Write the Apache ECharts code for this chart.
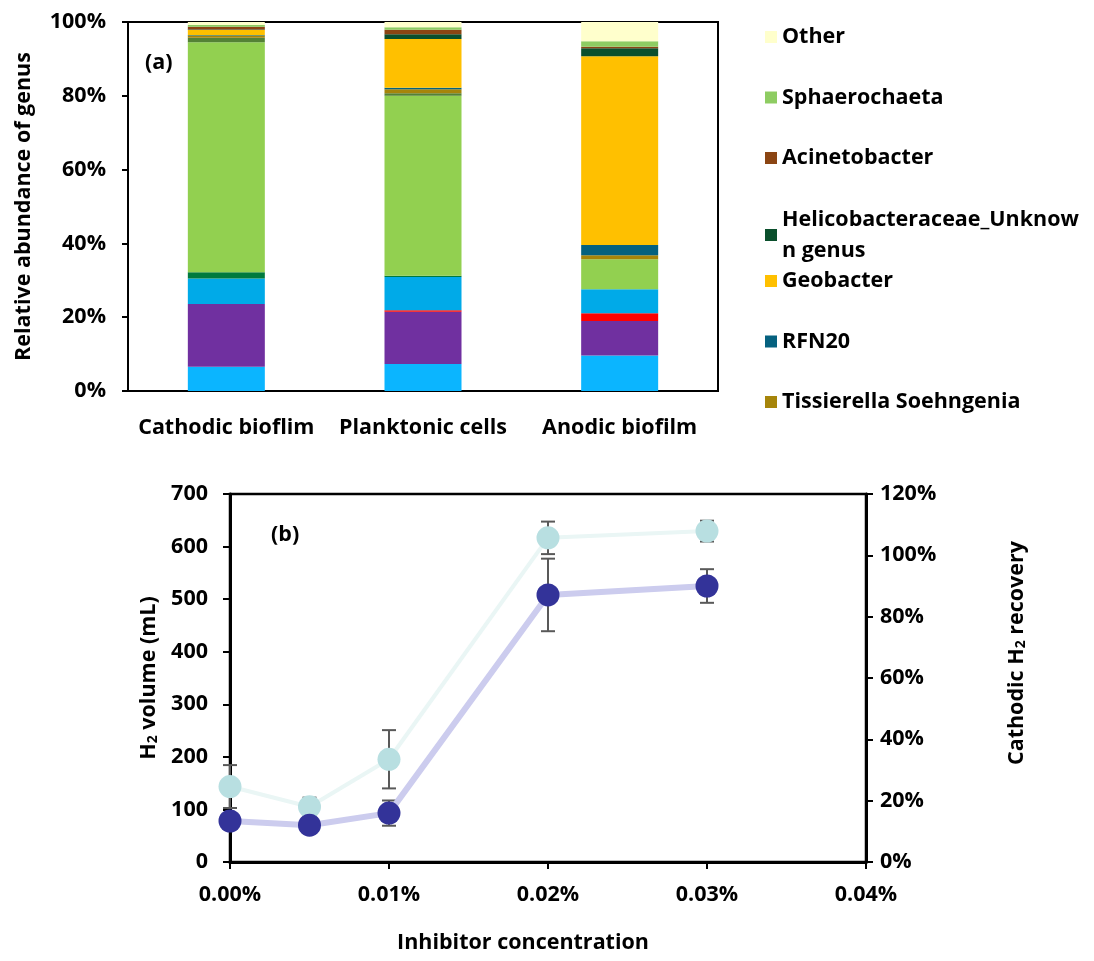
<!DOCTYPE html>
<html>
<head>
<meta charset="utf-8">
<style>
html,body{margin:0;padding:0;background:#fff;}
#chart{width:1094px;height:961px;}
</style>
<script src="https://cdn.jsdelivr.net/npm/echarts@6/dist/echarts.min.js"></script>
</head>
<body>
<div id="chart"></div>
<script>
// ---------- Panel (a) data: stacked relative abundance (%) ----------
var categories = ['Cathodic bioflim', 'Planktonic cells', 'Anodic biofilm'];
// bottom -> top
var genusNames = ['Genus 1', 'Genus 2', 'Genus 3', 'Genus 4', 'Genus 5', 'Genus 6', 'Genus 7',
  'Tissierella Soehngenia', 'RFN20', 'Geobacter', 'Helicobacteraceae_Unknown genus',
  'Acinetobacter', 'Sphaerochaeta', 'Other'];
var genus1 = [6.6, 7.3, 9.6];
var genus2 = [17.0, 14.2, 9.4];
var genus3 = [0.0, 0.4, 2.1];
var genus4 = [6.9, 9.0, 6.5];
var genus5 = [1.7, 0.3, 0.0];
var genus6 = [62.3, 48.8, 8.1];
var genus7 = [1.2, 0.7, 0.0];
var tissierella = [0.5, 1.1, 1.1];
var rfn20 = [0.2, 0.4, 2.8];
var geobacter = [1.4, 13.2, 51.1];
var helicobacteraceae = [0.2, 1.3, 2.2];
var acinetobacter = [0.7, 1.2, 0.4];
var sphaerochaeta = [0.5, 0.7, 1.5];
var other = [0.8, 1.4, 5.2];
var genusValues = [genus1, genus2, genus3, genus4, genus5, genus6, genus7,
  tissierella, rfn20, geobacter, helicobacteraceae, acinetobacter, sphaerochaeta, other];
var genusColors = ['#0BB5FF', '#7030A0', '#FF0000', '#00AAE8', '#007A3D', '#92D050', '#548235',
  '#A6850A', '#05617F', '#FFC000', '#0A4F2C', '#8B4513', '#8ECC62', '#FFFFCC'];

// ---------- Panel (b) data ----------
var concentration = [0, 0.005, 0.01, 0.02, 0.03];      // %
var h2Volume = [78, 70, 93, 508, 525];                  // mL
var h2VolumeErr = [8, 6, 24, 69, 32];
var h2Recovery = [24.6, 18.0, 33.5, 105.7, 107.9];      // %
var h2RecoveryErr = [7.0, 3.0, 9.5, 5.3, 3.4];

var FONT = 'Open Sans';
var FS = 21.5;

var chart = echarts.init(document.getElementById('chart'));

var series = [];
genusNames.forEach(function (n, i) {
  series.push({
    name: n, type: 'bar', stack: 'genus', xAxisIndex: 0, yAxisIndex: 0,
    barWidth: 77, data: genusValues[i],
    itemStyle: { color: genusColors[i] }
  });
});

function errItem() {
  return function (params, api) {
    var x = api.value(0), y = api.value(1), e = api.value(2);
    var top = api.coord([x, y + e]);
    var bot = api.coord([x, y - e]);
    var hw = 7;
    var st = { stroke: '#595959', lineWidth: 2 };
    return {
      type: 'group',
      children: [
        { type: 'line', shape: { x1: top[0], y1: top[1], x2: bot[0], y2: bot[1] }, style: st },
        { type: 'line', shape: { x1: top[0] - hw, y1: top[1], x2: top[0] + hw, y2: top[1] }, style: st },
        { type: 'line', shape: { x1: bot[0] - hw, y1: bot[1], x2: bot[0] + hw, y2: bot[1] }, style: st }
      ]
    };
  };
}

series.push({
  name: 'H2 volume error', type: 'custom', xAxisIndex: 1, yAxisIndex: 1, z: 2,
  renderItem: errItem(),
  data: concentration.map(function (c, i) { return [c, h2Volume[i], h2VolumeErr[i]]; })
});
series.push({
  name: 'Recovery error', type: 'custom', xAxisIndex: 1, yAxisIndex: 2, z: 2,
  renderItem: errItem(),
  data: concentration.map(function (c, i) { return [c, h2Recovery[i], h2RecoveryErr[i]]; })
});
series.push({
  name: 'Cathodic H2 recovery', type: 'line', xAxisIndex: 1, yAxisIndex: 2, z: 3,
  data: concentration.map(function (c, i) { return [c, h2Recovery[i]]; }),
  symbol: 'circle', symbolSize: 23,
  lineStyle: { color: '#EAF6F5', width: 4 },
  itemStyle: { color: '#B8DFE1' }
});
series.push({
  name: 'H2 volume', type: 'line', xAxisIndex: 1, yAxisIndex: 1, z: 4,
  data: concentration.map(function (c, i) { return [c, h2Volume[i]]; }),
  symbol: 'circle', symbolSize: 23,
  lineStyle: { color: '#CCCCEE', width: 6 },
  itemStyle: { color: '#333399' }
});

var txt = { fontFamily: FONT, fontWeight: 'bold', fontSize: FS, color: '#000' };

var legendBase = {
  orient: 'vertical', left: 760, icon: 'rect', itemWidth: 12, itemHeight: 12,
  selectedMode: false, itemGap: 36.5,
  textStyle: { fontFamily: FONT, fontWeight: 'bold', fontSize: FS, color: '#000', lineHeight: 24 }
};

var richName = {
  a: { fontFamily: FONT, fontWeight: 'bold', fontSize: FS, color: '#000', lineHeight: 28, verticalAlign: 'bottom' },
  s: { fontFamily: FONT, fontWeight: 'bold', fontSize: 14, color: '#000', lineHeight: 20, verticalAlign: 'bottom' }
};

var option = {
  animation: false,
  backgroundColor: '#fff',
  title: [
    { text: '(a)', left: 140, top: 47, textStyle: txt },
    { text: '(b)', left: 266, top: 519, textStyle: txt }
  ],
  legend: [
    Object.assign({}, legendBase, { top: 20, data: ['Other', 'Sphaerochaeta', 'Acinetobacter'] }),
    Object.assign({}, legendBase, {
      top: 199, data: ['Helicobacteraceae_Unknown genus'],
      formatter: function () { return 'Helicobacteraceae_Unknow\nn genus'; },
      textStyle: { fontFamily: FONT, fontWeight: 'bold', fontSize: FS, color: '#000', lineHeight: 31 }
    }),
    Object.assign({}, legendBase, { top: 264, data: ['Geobacter', 'RFN20', 'Tissierella Soehngenia'] })
  ],
  grid: [
    { left: 128, right: 376, top: 22, bottom: 570, show: true, borderColor: '#000', borderWidth: 2, backgroundColor: 'transparent' },
    { left: 230, right: 228, top: 494, bottom: 99, show: true, borderColor: '#000', borderWidth: 2.5, backgroundColor: 'transparent' }
  ],
  xAxis: [
    {
      type: 'category', gridIndex: 0, data: categories,
      axisLine: { lineStyle: { color: '#000', width: 2 } },
      axisTick: { show: false },
      axisLabel: Object.assign({ margin: 26, interval: 0 }, txt)
    },
    {
      type: 'value', gridIndex: 1, min: 0, max: 0.04, interval: 0.01,
      splitLine: { show: false },
      axisLine: { show: true, onZero: false, lineStyle: { color: '#000', width: 3 } },
      axisTick: { show: true, length: 7, lineStyle: { color: '#000', width: 2 } },
      axisLabel: Object.assign({ margin: 22, formatter: function (v) { return v.toFixed(2) + '%'; } }, txt),
      name: 'Inhibitor concentration', nameLocation: 'middle', nameGap: 70,
      nameTextStyle: Object.assign({ padding: [0, 50, 0, 0] }, txt)
    }
  ],
  yAxis: [
    {
      type: 'value', gridIndex: 0, min: 0, max: 100, interval: 20,
      splitLine: { show: false },
      axisLine: { show: true, lineStyle: { color: '#000', width: 2 } },
      axisTick: { show: true, length: 6, lineStyle: { color: '#000', width: 2 } },
      axisLabel: Object.assign({ margin: 22, formatter: function (v) { return v + '%'; } }, txt),
      name: 'Relative abundance of genus', nameLocation: 'middle', nameRotate: 90, nameGap: 93,
      nameTextStyle: txt
    },
    {
      type: 'value', gridIndex: 1, min: 0, max: 700, interval: 100,
      splitLine: { show: false },
      axisLine: { show: true, lineStyle: { color: '#000', width: 3 } },
      axisTick: { show: true, length: 7, lineStyle: { color: '#000', width: 2 } },
      axisLabel: Object.assign({ margin: 22 }, txt),
      name: '{a|H}{s|2}{a| volume (mL)}', nameLocation: 'middle', nameRotate: 90, nameGap: 55,
      nameTextStyle: { rich: richName }
    },
    {
      type: 'value', gridIndex: 1, position: 'right', min: 0, max: 120, interval: 20,
      splitLine: { show: false },
      axisLine: { show: true, lineStyle: { color: '#000', width: 3 } },
      axisTick: { show: true, length: 7, lineStyle: { color: '#000', width: 2 } },
      axisLabel: Object.assign({ margin: 14, formatter: function (v) { return v + '%'; } }, txt),
      name: '{a|Cathodic H}{s|2}{a| recovery}', nameLocation: 'middle', nameRotate: 90, nameGap: 134,
      nameTextStyle: { rich: richName, padding: [0, 0, 0, 50] }
    }
  ],
  series: series
};
chart.setOption(option);
</script>
</body>
</html>
